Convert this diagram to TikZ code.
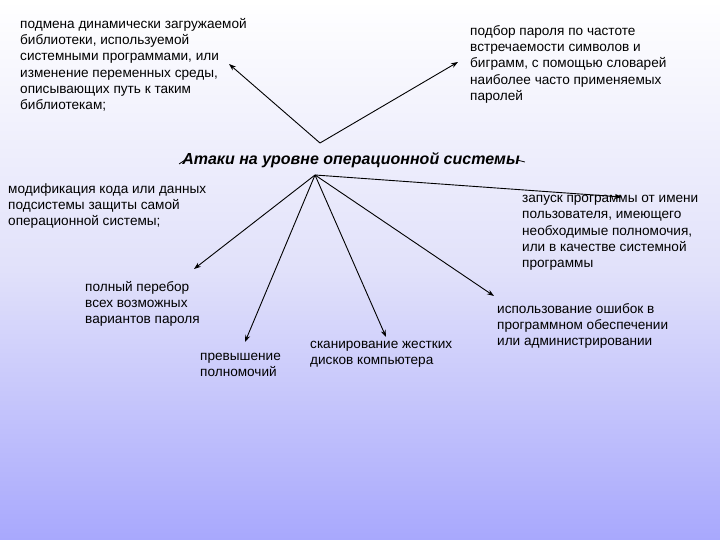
\documentclass[tikz,border=0pt]{standalone}
\usepackage{fontspec}
\setmainfont{Liberation Sans}
\usetikzlibrary{arrows.meta}
\begin{document}
\begin{tikzpicture}[x=1pt,y=-1pt,
  txt/.style={anchor=north west,align=left,font=\fontsize{13.6}{16.3}\selectfont,inner sep=0pt},
  arr/.style={-{Stealth[length=7pt,width=5pt]},line width=0.9pt}]
\useasboundingbox (0,0) rectangle (720,540);
\shade[top color=white,bottom color={rgb,255:red,168;green,168;blue,253},middle color={rgb,255:red,225;green,225;blue,250}] (0,0) rectangle (720,540);
\node[txt] (t1) at (20,18) {подмена динамически загружаемой\\библиотеки, используемой\\системными программами, или\\изменение переменных среды,\\описывающих путь к таким\\библиотекам;};
\node[txt] (t2) at (470,25) {подбор пароля по частоте\\встречаемости символов и\\биграмм, с помощью словарей\\наиболее часто применяемых\\паролей};
\node[font=\fontsize{16}{18}\selectfont\bfseries\itshape,inner sep=1pt] (title) at (351,160) {Атаки на уровне операционной системы};
\node[txt] (m) at (8,183) {модификация кода или данных\\подсистемы защиты самой\\операционной системы;};
\node[txt] (z) at (522,195) {запуск программы от имени\\пользователя, имеющего\\необходимые полномочия,\\или в качестве системной\\программы};
\node[txt] (p) at (85,281) {полный перебор\\всех возможных\\вариантов пароля};
\node[txt] (pr) at (200,353) {превышение\\полномочий};
\node[txt] (s) at (310,341) {сканирование жестких\\дисков компьютера};
\node[txt] (i) at (497,303) {использование ошибок в\\программном обеспечении\\или администрировании};
\coordinate (apex) at (320,143);
\coordinate (e1) at (229,64);
\coordinate (e2) at (458,62);
\draw[arr] (apex) -- (e1);
\draw[arr] (apex) -- (e2);
\coordinate (b) at (315,175);
\coordinate (a1) at (194,269);
\coordinate (a2) at (245,342);
\coordinate (a3) at (386,337);
\coordinate (a4) at (494,296);
\coordinate (a5) at (622,197);
\foreach \e in {a1,a2,a3,a4,a5} \draw[arr] (b) -- (\e);
\draw[line width=0.8pt] (title.west) ++(-2,4) -- ++(6,-4);
\draw[line width=0.8pt] (title.east) ++(-4,0) -- ++(8,2);
\end{tikzpicture}
\end{document}
